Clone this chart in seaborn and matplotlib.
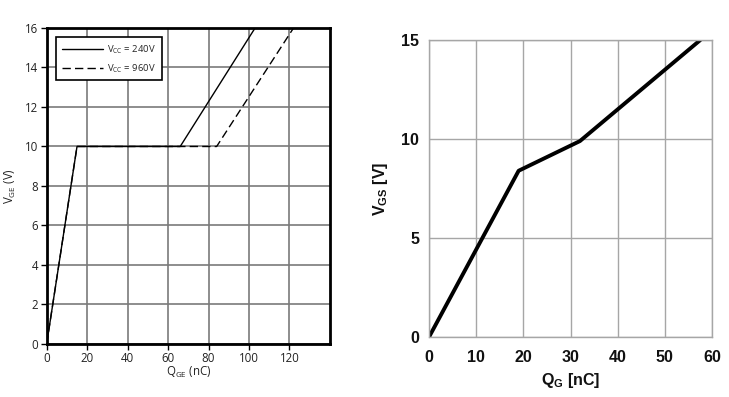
import numpy as np
import pandas as pd
import matplotlib
matplotlib.use("Agg")
import matplotlib.pyplot as plt
import seaborn as sns

# ---- data ----
qge_240 = [0, 15, 66, 103]
vge_240 = [0, 10, 10, 16]
qge_960 = [0, 15, 84, 122]
vge_960 = [0, 10, 10, 16]
series_labels = [r"V$_{\mathrm{CC}}$ = 240V", r"V$_{\mathrm{CC}}$ = 960V"]

qg = [0, 19, 32, 57.5]
vgs = [0, 8.4, 9.9, 15]

left_xticks = [0, 20, 40, 60, 80, 100, 120]
left_yticks = [0, 2, 4, 6, 8, 10, 12, 14, 16]
right_xticks = [0, 10, 20, 30, 40, 50, 60]
right_yticks = [0, 5, 10, 15]

sns.set_theme(style="white")
plt.rcParams["font.family"] = ["Open Sans", "DejaVu Sans"]
plt.rcParams["mathtext.fontset"] = "custom"
plt.rcParams["mathtext.rm"] = "Open Sans"
plt.rcParams["mathtext.bf"] = "Liberation Sans:bold"

fig = plt.figure(figsize=(7.29, 3.97), dpi=100)

# ---------- left ----------
ax1 = fig.add_axes([0.064, 0.1335, 0.3886, 0.796])
df960 = pd.DataFrame({"q": qge_960, "v": vge_960})
df240 = pd.DataFrame({"q": qge_240, "v": vge_240})
sns.lineplot(data=df960, x="q", y="v", ax=ax1, color="black", lw=1.0,
             linestyle=(0, (6, 3)), sort=False, estimator=None, label=series_labels[1])
sns.lineplot(data=df240, x="q", y="v", ax=ax1, color="black", lw=1.0,
             sort=False, estimator=None, label=series_labels[0])
ax1.set_xlim(0, 140)
ax1.set_ylim(0, 16)
ax1.set_xticks(left_xticks)
ax1.set_yticks(left_yticks)
ax1.grid(True, color="#7a7a7a", lw=1.2)
ax1.set_axisbelow(True)
for s in ax1.spines.values():
    s.set_color("black")
    s.set_linewidth(2)
ax1.tick_params(axis="both", which="major", length=4, width=1, color="black",
                labelsize=8.3, direction="out", bottom=True, left=True, pad=2,
                labelcolor="#222222")
ax1.set_xlabel(r"Q$_{\mathrm{GE}}$ (nC)", fontsize=8.3, labelpad=0, color="#222222")
ax1.set_ylabel(r"V$_{\mathrm{GE}}$ (V)", fontsize=8.3, labelpad=5, color="#222222")
h, l = ax1.get_legend_handles_labels()
leg = ax1.legend(h[::-1], l[::-1], loc="upper left", fontsize=6.8, frameon=True,
                 fancybox=False, edgecolor="black", framealpha=1,
                 handlelength=4.3, borderpad=0.6, labelspacing=0.7,
                 handletextpad=0.5, bbox_to_anchor=(0.018, 0.985))
leg.get_frame().set_linewidth(1.2)

# ---------- right ----------
ax2 = fig.add_axes([0.5885, 0.151, 0.3882, 0.748])
df2 = pd.DataFrame({"q": qg, "v": vgs})
sns.lineplot(data=df2, x="q", y="v", ax=ax2, color="black", lw=2.8,
             sort=False, estimator=None)
ax2.set_xlim(0, 60)
ax2.set_ylim(0, 15)
ax2.set_xticks(right_xticks)
ax2.set_yticks(right_yticks)
ax2.grid(True, color="#a6a6a6", lw=1.0)
ax2.set_axisbelow(True)
for s in ax2.spines.values():
    s.set_color("#a6a6a6")
    s.set_linewidth(1.0)
ax2.tick_params(axis="x", length=0, pad=9)
ax2.tick_params(axis="y", length=0, pad=7)
for lab in ax2.get_xticklabels() + ax2.get_yticklabels():
    lab.set_fontfamily("Liberation Sans")
    lab.set_fontweight("bold")
    lab.set_fontsize(11.5)
    lab.set_color("#111111")
ax2.set_xlabel(r"$\mathbf{Q_G}$ [nC]", fontsize=11.5, fontweight="bold",
               family="Liberation Sans", labelpad=5, color="#111111")
ax2.set_ylabel(r"$\mathbf{V_{GS}}$ [V]", fontsize=11.5, fontweight="bold",
               family="Liberation Sans", labelpad=8, color="#111111")

fig.savefig("out.png", dpi=100)
